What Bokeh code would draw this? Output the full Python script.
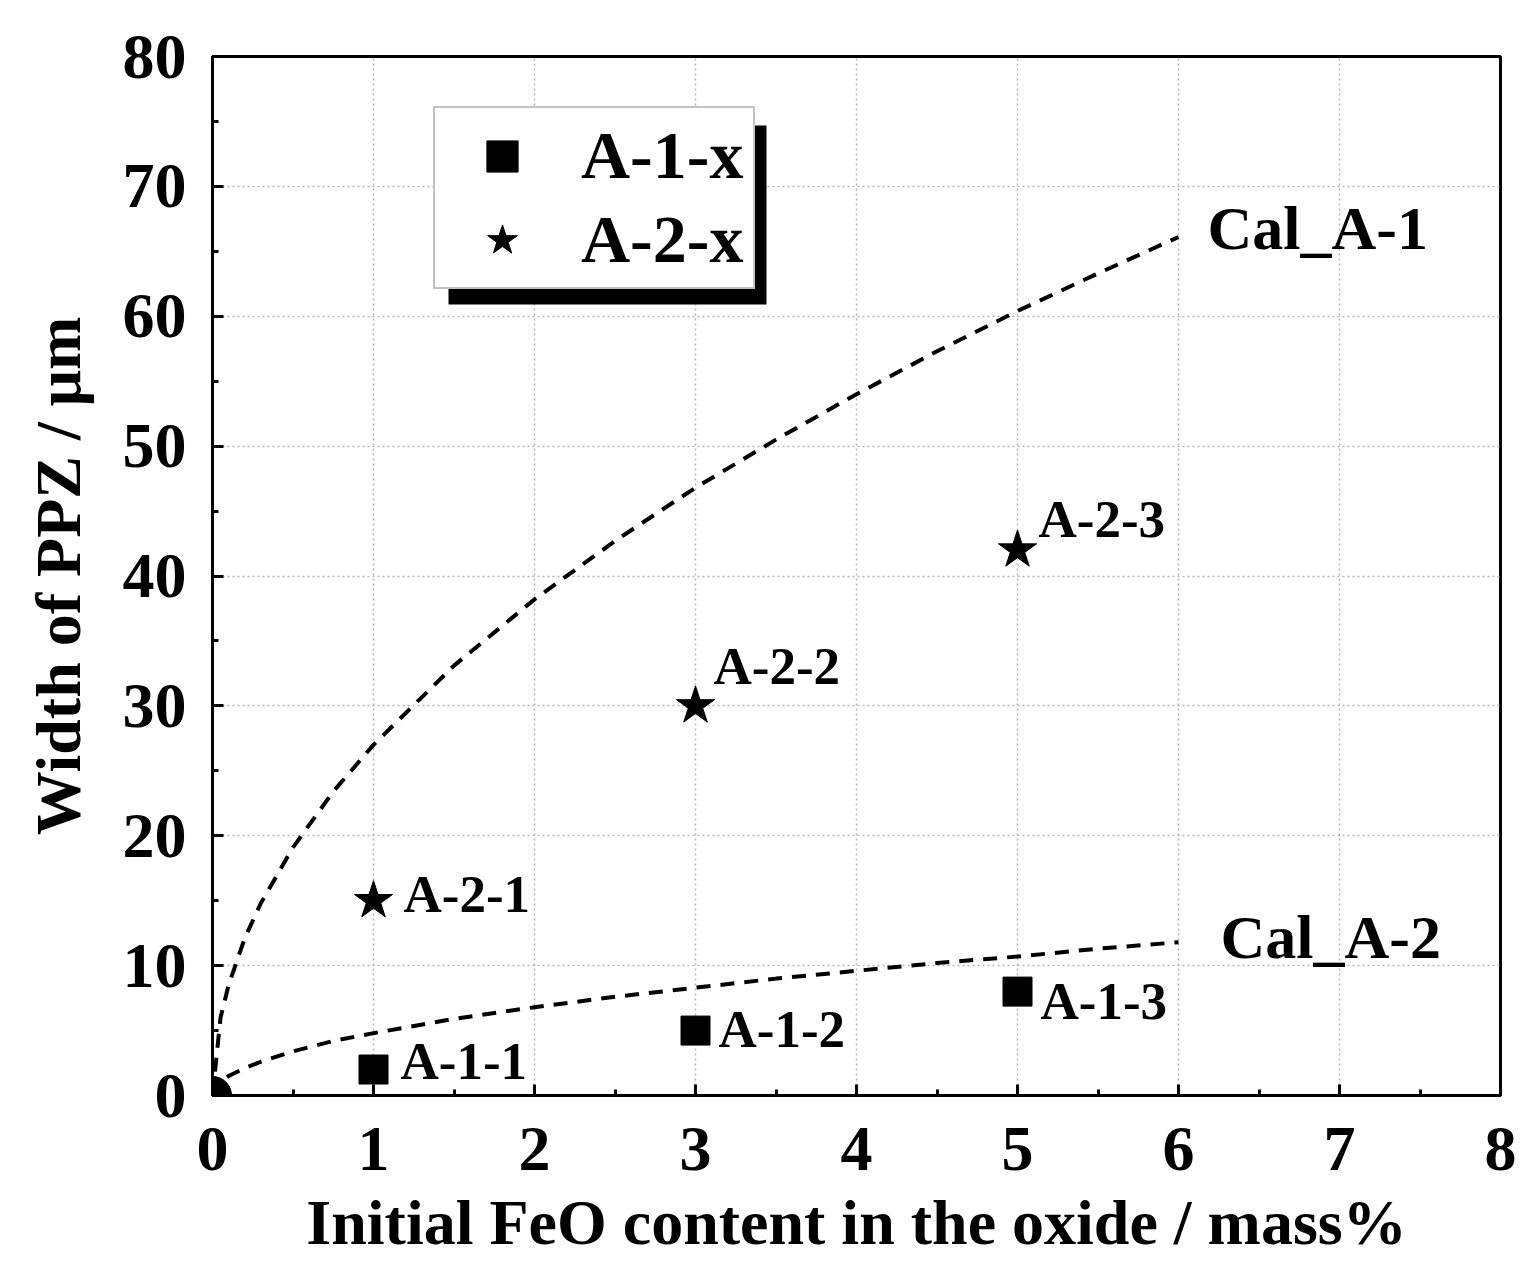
from bokeh.plotting import figure
from bokeh.models import Range1d, Legend, LegendItem, BoxAnnotation, FixedTicker
from bokeh.core.properties import value
from bokeh.embed import file_html
from bokeh.resources import INLINE

# ---- data ----
feo = [1, 3, 5]
a1_width = [2, 5, 8]
a2_width = [15, 30, 42]
a1_labels = ["A-1-1", "A-1-2", "A-1-3"]
a2_labels = ["A-2-1", "A-2-2", "A-2-3"]
origin_x = [0]
origin_y = [0]
cal_x = [0, 0.05, 0.1, 0.2, 0.3, 0.5, 0.75, 1, 1.5, 2, 2.5, 3, 3.5, 4, 4.5, 5, 5.5, 6]
cal_a1 = [0, 6.0, 8.5, 12.1, 14.8, 19.1, 23.4, 27.0, 33.1, 38.2, 42.7, 46.8, 50.5, 54.0, 57.3, 60.4, 63.3, 66.1]
cal_a2 = [0, 1.1, 1.5, 2.1, 2.6, 3.4, 4.2, 4.8, 5.9, 6.8, 7.6, 8.3, 9.0, 9.6, 10.2, 10.7, 11.3, 11.8]
cal_names = ["Cal_A-1", "Cal_A-2"]
x_ticks = [0, 1, 2, 3, 4, 5, 6, 7, 8]
y_ticks = [0, 10, 20, 30, 40, 50, 60, 70, 80]
x_minor = [0.5, 1.5, 2.5, 3.5, 4.5, 5.5, 6.5, 7.5]
y_minor = [5, 15, 25, 35, 45, 55, 65, 75]

FONT = value("Liberation Serif")
W, H = 1520, 1268
BL, BR, BT, BB = 212, 20, 56, 173
FW = W - BL - BR
FH = H - BT - BB

p = figure(width=W, height=H, x_range=Range1d(0, 8), y_range=Range1d(0, 80),
           output_backend="svg", toolbar_location=None,
           min_border_left=BL, min_border_right=BR, min_border_top=BT, min_border_bottom=BB)
p.background_fill_color = "white"
p.border_fill_color = "white"
p.outline_line_color = "black"
p.outline_line_width = 3

for ax, ticks, minor in ((p.xaxis, x_ticks, x_minor), (p.yaxis, y_ticks, y_minor)):
    ax.ticker = FixedTicker(ticks=ticks, minor_ticks=minor)
    ax.axis_line_width = 3
    ax.axis_line_color = "black"
    ax.major_tick_in = 11
    ax.major_tick_out = 0
    ax.minor_tick_in = 6
    ax.minor_tick_out = 0
    ax.major_tick_line_width = 3
    ax.minor_tick_line_width = 3
    ax.major_label_text_font = "Liberation Serif"
    ax.major_label_text_font_style = "bold"
    ax.major_label_text_font_size = "64px"
    ax.major_label_text_color = "black"
    ax.axis_label_text_font = "Liberation Serif"
    ax.axis_label_text_font_style = "bold"
    ax.axis_label_text_font_size = "64px"
    ax.axis_label_text_color = "black"

p.xaxis.axis_label = "Initial FeO content in the oxide / mass%"
p.yaxis.axis_label = "Width of PPZ / μm"
p.xaxis.major_label_standoff = 32
p.yaxis.major_label_standoff = 26
p.xaxis.axis_label_standoff = 14
p.yaxis.axis_label_standoff = 26

for g in (p.xgrid, p.ygrid):
    g.grid_line_color = "#b5b5b5"
    g.grid_line_dash = "2 3"
    g.grid_line_width = 1.5

# curves
p.line(cal_x, cal_a1, line_color="black", line_width=4, line_dash="14 10")
p.line(cal_x, cal_a2, line_color="black", line_width=4, line_dash="14 10")

# points
p.scatter(origin_x, origin_y, marker="circle", size=38, color="black")
r_sq = p.scatter(feo, a1_width, marker="square", size=29, color="black")
r_st = p.scatter(feo, a2_width, marker="star", size=40, color="black")

# point labels
p.text(feo, a1_width, text=a1_labels, text_font=FONT, text_font_style="bold",
       text_font_size="53px", text_baseline="middle", text_color="black",
       x_offset=[27, 23, 23], y_offset=[-9, -2, 9])
p.text(feo, a2_width, text=a2_labels, text_font=FONT, text_font_style="bold",
       text_font_size="53px", text_baseline="middle", text_color="black",
       x_offset=[30, 18, 21], y_offset=[-7, -40, -31])
p.text([cal_x[-1], cal_x[-1]], [cal_a1[-1], cal_a2[-1]], text=cal_names, text_font=FONT,
       text_font_style="bold", text_font_size="62px", text_baseline="middle",
       text_color="black", x_offset=[29, 42], y_offset=[-9, -5])

# legend with shadow
LX, LY, LWID, LHT = 221, 806, 318, 179
SH = 15
px_x = 8 / FW
px_y = 80 / FH
shadow = BoxAnnotation(left=(LX + SH) * px_x, right=(LX + LWID + SH) * px_x,
                       bottom=(LY - SH) * px_y, top=(LY + LHT - SH) * px_y,
                       fill_color="black", fill_alpha=1.0, line_alpha=0)
p.add_layout(shadow)

legend = Legend(items=[LegendItem(label="A-1-x", renderers=[r_sq]),
                       LegendItem(label="A-2-x", renderers=[r_st])],
                location=(LX, LY), orientation="vertical",
                label_text_font="Liberation Serif", label_text_font_style="bold",
                label_text_font_size="68px", label_text_color="black",
                label_width=164, label_height=78, glyph_width=118, glyph_height=78,
                label_standoff=20, spacing=5, padding=8, margin=0,
                border_line_color="#888888", border_line_width=2,
                background_fill_color="white", background_fill_alpha=1.0)
p.add_layout(legend, "center")

open("out.html", "w").write(file_html(p, INLINE))
